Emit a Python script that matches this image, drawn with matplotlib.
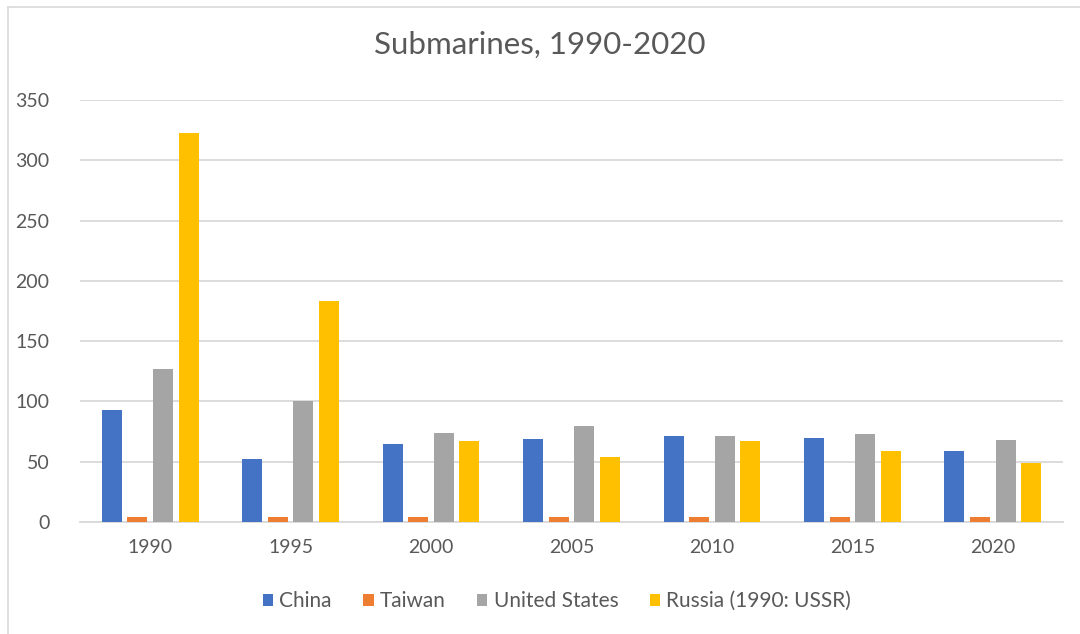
import matplotlib
matplotlib.use("Agg")
import matplotlib.pyplot as plt
import numpy as np
from matplotlib.lines import Line2D

years = ["1990", "1995", "2000", "2005", "2010", "2015", "2020"]
china = [93, 52, 65, 69, 71, 70, 59]
taiwan = [4, 4, 4, 4, 4, 4, 4]
united_states = [127, 100, 74, 80, 71, 73, 68]
russia = [323, 183, 67, 54, 67, 59, 49]
series_names = ["China", "Taiwan", "United States", "Russia (1990: USSR)"]
colors = ["#4472C4", "#ED7D31", "#A5A5A5", "#FFC000"]
yticks = [0, 50, 100, 150, 200, 250, 300, 350]

plt.rcParams['font.family'] = ['Lato', 'DejaVu Sans']

W, H = 1080, 634
fig = plt.figure(figsize=(W/100, H/100), dpi=100)
ax = fig.add_axes([80/W, 1 - 522/H, 983/W, 422/H])

x = np.arange(len(years))
pitch = 0.182
width = 0.143
all_series = [china, taiwan, united_states, russia]
for i, (vals, c, name) in enumerate(zip(all_series, colors, series_names)):
    ax.bar(x + (i - 1.5) * pitch, vals, width=width, color=c, label=name, zorder=3)

ax.set_xlim(-0.5, len(years) - 0.5)
ax.set_ylim(0, 350)
ax.set_yticks(yticks)
ax.set_yticklabels([str(t) for t in yticks], fontsize=14, color="#595959")
ax.set_xticks(x)
ax.set_xticklabels(years, fontsize=14, color="#595959")
ax.tick_params(axis='x', length=0, pad=12)
ax.tick_params(axis='y', length=0, pad=22)
ax.grid(axis='y', color="#d9d9d9", linewidth=1.3, zorder=0)
for s in ["top", "right", "left"]:
    ax.spines[s].set_visible(False)
ax.spines["bottom"].set_color("#d9d9d9")
ax.spines["bottom"].set_linewidth(1.3)

fig.text(0.5, 1 - 45/H, "Submarines, 1990-2020", ha='center', va='center',
         fontsize=22.5, color="#595959")

handles, labels = ax.get_legend_handles_labels()
fig.legend(handles, labels, loc='center', bbox_to_anchor=(557/W, 1 - 601/H), ncol=4,
           frameon=False, fontsize=15, handlelength=0.5, handleheight=0.5,
           handletextpad=0.3, columnspacing=1.5, labelcolor="#595959")

fig.lines.append(Line2D([7.5/W, 1], [1 - 6.5/H, 1 - 6.5/H], transform=fig.transFigure,
                        color="#d9d9d9", linewidth=1.2))
fig.lines.append(Line2D([7.5/W, 7.5/W], [0, 1 - 6.5/H], transform=fig.transFigure,
                        color="#d9d9d9", linewidth=1.2))

fig.savefig("out.png", dpi=100, facecolor="white")
